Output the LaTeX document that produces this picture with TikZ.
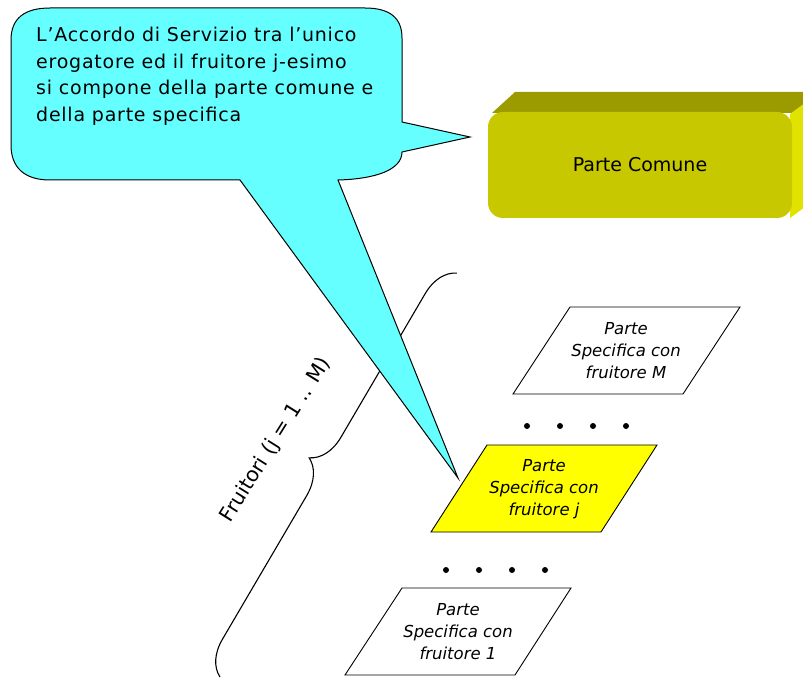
\documentclass[tikz,border=0pt]{standalone}
\usepackage{fontspec}
\setmainfont{DejaVu Sans}
\usetikzlibrary{decorations.pathreplacing}
\definecolor{bubble}{HTML}{66FFFF}
\definecolor{pcfront}{HTML}{C8C800}
\definecolor{pctop}{HTML}{9B9B00}
\definecolor{pcside}{HTML}{E2E200}
\definecolor{pyellow}{HTML}{FFFF00}
\begin{document}
\begin{tikzpicture}[x=1pt,y=-1pt,
  ptext/.style={font=\fontsize{16.5}{22}\selectfont\itshape, align=center, inner sep=0pt},
  para/.style={draw=black, line width=0.9pt, line join=miter},
  dotmark/.style={fill=black, circle, inner sep=0pt, minimum size=6pt},
  outline/.style={draw=black, line width=1pt}]
\useasboundingbox (0,0) rectangle (803,679);
\clip (0,0) rectangle (803,679);
% Parte Comune 3D box
\fill[pctop] (492,113) -- (515,92) -- (820,92) -- (795,113) -- cycle;
\fill[pcside] (790,114) -- (820,92) -- (820,196) -- (790,218) -- cycle;
\fill[pcfront, rounded corners=15pt] (488,112) rectangle (792,218);
\node[font=\fontsize{19}{22}\selectfont] (pc) at (640,165) {Parte Comune};
% brace
\draw[line width=1.1pt, decorate, decoration={brace, amplitude=34pt}] (220,677) -- (457,273);
\node[font=\fontsize{20.5}{24}\selectfont, rotate=58] (fr) at (276,440) {Fruitori (j = 1 .. M)};
% parallelograms
\draw[para, fill=white] (570,307) -- (740,307) -- (683,394) -- (513,394) -- cycle;
\node[ptext] (pM) at (626,351) {Parte\\Specifica con\\fruitore M};
\draw[para, fill=pyellow] (487,445) -- (657,445) -- (601,532) -- (431,532) -- cycle;
\node[ptext] (pj) at (544,489) {Parte\\Specifica con\\fruitore j};
\draw[para, fill=white] (402,588) -- (571,588) -- (515,675) -- (345,675) -- cycle;
\node[ptext] (p1) at (458,632) {Parte\\Specifica con\\fruitore 1};
% dots
\foreach \x [count=\i] in {527,560,593,626} \node[dotmark] (da\i) at (\x,426) {};
\foreach \x [count=\i] in {446,479,512,545} \node[dotmark] (db\i) at (\x,570) {};
% callout
\draw[outline, fill=bubble, line join=miter]
  (11,40) .. controls (11,18) and (25,8) .. (50,8)
  -- (365,8) .. controls (390,8) and (402,18) .. (402,38)
  -- (402,122) -- (470,137) -- (402,152)
  .. controls (402,170) and (375,179) .. (338,180)
  -- (458,478) -- (240,180)
  -- (50,180) .. controls (25,180) and (11,168) .. (11,145) -- cycle;
\node[font={\fontsize{19}{26.5}\selectfont\addfontfeatures{LetterSpace=4}}, align=left, anchor=north west, inner sep=0pt] (txt) at (36,27)
  {L’Accordo di Servizio tra l’unico\\erogatore ed il fruitore j-esimo\\si compone della parte comune e\\della parte specifica};
\end{tikzpicture}
\end{document}
